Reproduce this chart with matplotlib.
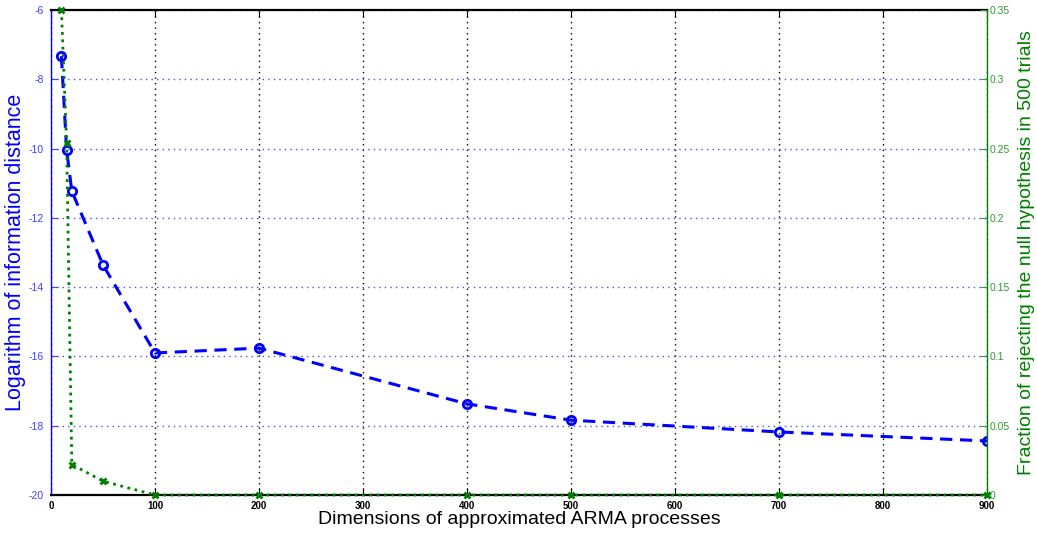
import matplotlib
matplotlib.use("Agg")
import matplotlib.pyplot as plt

plt.rcParams['font.family'] = ['Liberation Sans', 'DejaVu Sans']
plt.rcParams['axes.unicode_minus'] = False

# Dimensions of the approximated ARMA processes
dims = [10, 15, 20, 50, 100, 200, 400, 500, 700, 900]
# Logarithm of information distance
log_dist = [-7.33, -10.04, -11.23, -13.36, -15.90, -15.76, -17.37, -17.84, -18.18, -18.44]
# Fraction of rejecting the null hypothesis in 500 trials
reject_frac = [0.35, 0.254, 0.022, 0.010, 0.0, 0.0, 0.0, 0.0, 0.0, 0.0]

x_ticks = [0, 100, 200, 300, 400, 500, 600, 700, 800, 900]
left_ticks = [-6, -8, -10, -12, -14, -16, -18, -20]
right_ticks = [0, 0.05, 0.1, 0.15, 0.2, 0.25, 0.3, 0.35]
right_labels = ['0', '0.05', '0.1', '0.15', '0.2', '0.25', '0.3', '0.35']

blue = (0, 0, 1)
green = (0, 0.5, 0)

fig = plt.figure(figsize=(10.37, 5.37), dpi=100)
ax = fig.add_axes([0.0492, 0.0782, 0.9026, 0.9032])
ax2 = ax.twinx()

ax.plot(dims, log_dist, linestyle=(0, (4, 2.5)), color=blue, lw=2.2,
        marker='o', ms=6, mfc='none', mec=blue, mew=2.0, zorder=3)
ax2.plot(dims, reject_frac, linestyle=':', color=green, lw=2.0,
         marker='x', ms=4.5, mec=green, mew=2.0, clip_on=False, zorder=3)

ax.set_xlim(0, 900)
ax.set_ylim(-20, -6)
ax2.set_ylim(0, 0.35)
ax.set_xticks(x_ticks)
ax.set_yticks(left_ticks)
ax2.set_yticks(right_ticks)
ax2.set_yticklabels(right_labels)

# grids: black dotted vertical, blue dotted horizontal
ax.xaxis.grid(True, linestyle=(0, (1, 3)), color='black', lw=1.0)
ax.yaxis.grid(True, linestyle=(0, (1, 3)), color=(0.3, 0.3, 1.0), lw=1.0)
ax.set_axisbelow(True)

ax.tick_params(axis='x', direction='in', top=True, length=5, width=0.8,
               labelsize=7, colors='black', pad=4)
ax.tick_params(axis='y', direction='in', length=5, width=0.8,
               labelsize=7.5, colors=(0.25, 0.25, 1.0), pad=5)
ax2.tick_params(axis='y', direction='in', length=5, width=0.8,
                labelsize=7.5, colors=(0.2, 0.6, 0.2), pad=2)
for lbl in ax.get_xticklabels():
    lbl.set_fontweight('bold')

for s in ['top', 'bottom']:
    ax.spines[s].set_color('black')
    ax.spines[s].set_linewidth(1.6)
ax2.spines['top'].set_visible(False)
ax2.spines['bottom'].set_visible(False)
ax2.spines['left'].set_visible(False)
ax.spines['right'].set_visible(False)
ax.spines['left'].set_color(blue)
ax.spines['left'].set_linewidth(1.0)
ax2.spines['right'].set_color(green)
ax2.spines['right'].set_linewidth(1.0)

ax.set_xlabel('Dimensions of approximated ARMA processes', fontsize=14, color='black', labelpad=0)
ax.set_ylabel('Logarithm of information distance', fontsize=15.5, color=blue, labelpad=2)
ax2.set_ylabel('Fraction of rejecting the null hypothesis in 500 trials', fontsize=14,
               color=green, labelpad=6)

fig.savefig('out.png', dpi=100)
